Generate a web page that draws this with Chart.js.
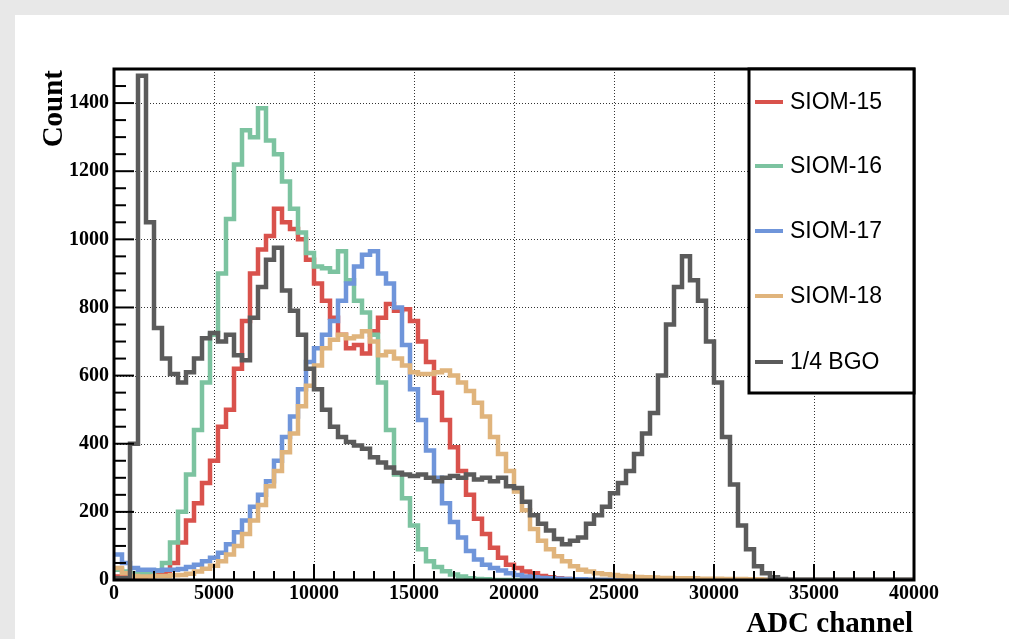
<!DOCTYPE html>
<html><head><meta charset="utf-8">
<script src="https://cdn.jsdelivr.net/npm/chart.js@4.4.0/dist/chart.umd.min.js"></script>
<style>html,body{margin:0;padding:0;background:#fff;overflow:hidden;} canvas{display:block;}</style>
</head><body>
<canvas id="c" width="1009" height="639"></canvas>
<script>
// ---- data (counts per 400-channel bin, starting at channel 0) ----
const binWidth = 400;
const xMin = 0, xMax = 40000, yMax = 1500;
const xTickStep = 5000, yTickStep = 200;
const seriesLabels = ["SIOM-15", "SIOM-16", "SIOM-17", "SIOM-18", "1/4 BGO"];
const seriesColors = ["#d9524c", "#7cc3a0", "#6f95da", "#e0b47c", "#5b5b5b"];

const siom15 = [10,10,10,10,12,15,22,50,110,175,225,285,350,450,500,620,760,900,970,1010,
  1090,1050,1030,1000,940,870,820,770,720,680,690,665,730,770,810,790,795,760,700,640,
  550,470,390,320,250,180,135,95,65,45,35,25,20,12,8,5,3,2,0,0,
  0,0,0,0,0,0,0,0,0,0,0,0,0,0,0,0,0,0,0,0,
  0,0,0,0,0,0,0,0,0,0,0,0,0,0,0,0,0,0,0,0];
const siom16 = [30,25,20,20,22,28,50,110,200,310,440,580,720,900,1060,1220,1320,1300,1385,1290,
  1250,1170,1090,1020,960,920,915,905,965,880,820,785,720,580,440,310,240,160,90,55,
  38,26,16,10,5,3,2,0,0,0,0,0,0,0,0,0,0,0,0,0,
  0,0,0,0,0,0,0,0,0,0,0,0,0,0,0,0,0,0,0,0,
  0,0,0,0,0,0,0,0,0,0,0,0,0,0,0,0,0,0,0,0];
const siom17 = [75,50,35,30,30,28,30,30,32,38,45,55,65,80,105,140,175,215,250,290,
  350,420,480,560,640,680,720,760,820,870,920,955,965,900,870,800,690,560,470,380,
  300,225,170,125,85,60,45,35,28,20,15,10,8,6,5,4,3,2,2,1,
  0,0,0,0,0,0,0,0,0,0,0,0,0,0,0,0,0,0,0,0,
  0,0,0,0,0,0,0,0,0,0,0,0,0,0,0,0,0,0,0,0];
const siom18 = [35,20,12,10,10,12,12,14,15,18,25,33,42,55,75,100,135,175,220,275,
  320,375,430,510,570,630,680,705,720,710,715,730,700,660,670,650,630,610,605,605,
  610,615,600,580,555,520,480,420,370,320,260,205,150,115,90,70,55,40,30,25,
  20,17,15,12,10,9,8,7,6,6,5,5,5,4,4,4,3,3,3,2,
  2,1,0,0,0,0,0,0,0,0,0,0,0,0,0,0,0,0,0,0];
const bgo = [5,5,400,1480,1050,740,650,605,580,610,650,710,725,700,720,660,645,770,860,940,
  975,850,790,720,620,560,500,450,420,405,395,385,360,345,330,315,310,305,310,300,
  290,300,305,300,310,295,300,290,300,275,270,230,190,165,145,120,105,115,125,165,
  190,215,255,285,320,370,430,490,600,750,860,950,880,820,700,580,420,280,160,90,
  40,20,8,3,1,1,1,1,1,1,1,1,1,1,1,1,1,1,1,1];
const seriesValues = [siom15, siom16, siom17, siom18, bgo];

function toPoints(vals) {
  const pts = vals.map((v, i) => ({ x: i * binWidth, y: v }));
  pts.push({ x: vals.length * binWidth, y: vals[vals.length - 1] });
  return pts;
}

const datasets = seriesValues.map((vals, k) => ({
  label: seriesLabels[k],
  data: toPoints(vals),
  borderColor: seriesColors[k],
  backgroundColor: seriesColors[k],
  borderWidth: 4.5,
  pointRadius: 0,
  stepped: 'before',
  fill: false,
  order: seriesValues.length - k   // later series drawn on top
}));

const serif = "'Liberation Serif', 'Times New Roman', serif";
const sans = "'Liberation Sans', Arial, Helvetica, sans-serif";

const rootStyle = {
  id: 'rootStyle',
  beforeDraw(chart) {
    const c = chart.ctx;
    c.save();
    c.fillStyle = '#e8e8e8';
    c.fillRect(0, 0, chart.width, chart.height);
    c.fillStyle = '#ffffff';
    c.fillRect(15, 15, chart.width - 15, chart.height - 15);
    c.restore();
  },
  beforeDatasetsDraw(chart) {
    const c = chart.ctx, a = chart.chartArea;
    const xs = chart.scales.x, ys = chart.scales.y;
    c.save();
    c.strokeStyle = '#333';
    c.lineWidth = 1;
    c.setLineDash([1, 2]);
    for (let v = xMin + xTickStep; v < xMax; v += xTickStep) {
      const px = Math.round(xs.getPixelForValue(v)) + 0.5;
      c.beginPath(); c.moveTo(px, a.top); c.lineTo(px, a.bottom); c.stroke();
    }
    for (let v = yTickStep; v < yMax; v += yTickStep) {
      const py = Math.round(ys.getPixelForValue(v)) + 0.5;
      c.beginPath(); c.moveTo(a.left, py); c.lineTo(a.right, py); c.stroke();
    }
    c.restore();
  },
  afterDatasetsDraw(chart) {
    const c = chart.ctx, a = chart.chartArea;
    const xs = chart.scales.x, ys = chart.scales.y;
    c.save();
    // ticks
    c.strokeStyle = '#000';
    c.lineWidth = 2;
    c.setLineDash([]);
    for (let v = xMin; v <= xMax; v += 1000) {
      const px = xs.getPixelForValue(v);
      const len = (v % xTickStep === 0) ? 16 : 9;
      c.beginPath(); c.moveTo(px, a.bottom); c.lineTo(px, a.bottom - len); c.stroke();
    }
    for (let v = 0; v <= yMax; v += 50) {
      const py = ys.getPixelForValue(v);
      const len = (v % yTickStep === 0) ? 20 : 12;
      c.beginPath(); c.moveTo(a.left, py); c.lineTo(a.left + len, py); c.stroke();
    }
    // frame
    c.lineWidth = 3;
    c.strokeRect(a.left, a.top, a.right - a.left, a.bottom - a.top);

    // legend box
    const lx = 749, ly = a.top, lw = a.right - 749, lh = 393 - a.top;
    c.fillStyle = '#fff';
    c.fillRect(lx, ly, lw, lh);
    c.strokeStyle = '#000';
    c.lineWidth = 3;
    c.strokeRect(lx, ly, lw, lh);
    const rows = [102, 166, 231, 296, 362];
    c.font = "23px " + sans;
    c.textBaseline = 'middle';
    c.textAlign = 'left';
    chart.data.datasets.forEach((ds, i) => {
      const y = rows[i];
      c.strokeStyle = ds.borderColor;
      c.lineWidth = 4;
      c.beginPath(); c.moveTo(755, y); c.lineTo(783, y); c.stroke();
      c.fillStyle = '#000';
      c.fillText(ds.label, 790, y + 1);
    });

    // axis titles
    c.fillStyle = '#000';
    c.font = "bold 29px " + serif;
    c.textAlign = 'right';
    c.textBaseline = 'alphabetic';
    c.fillText('ADC channel', 913, 632);
    c.translate(62, a.top + 1);
    c.rotate(-Math.PI / 2);
    c.textAlign = 'right';
    c.fillText('Count', 0, 0);
    c.restore();
  }
};

new Chart(document.getElementById('c'), {
  type: 'line',
  data: { datasets },
  options: {
    responsive: false,
    animation: false,
    events: [],
    layout: { padding: { left: 0, top: 69, right: 95, bottom: 0 } },
    plugins: { legend: { display: false }, tooltip: { enabled: false } },
    elements: { line: { borderJoinStyle: 'miter', borderCapStyle: 'butt', tension: 0 } },
    scales: {
      x: {
        type: 'linear', min: xMin, max: xMax,
        afterFit(s) { s.height = 59; },
        grid: { display: false, drawTicks: false },
        border: { display: false },
        ticks: { stepSize: xTickStep, padding: 2, color: '#000', maxRotation: 0,
                 callback: v => String(v),
                 font: { family: serif, size: 20, weight: 'bold' } }
      },
      y: {
        type: 'linear', min: 0, max: yMax,
        afterFit(s) { s.width = 114; },
        afterBuildTicks(s) { s.ticks = s.ticks.filter(t => t.value % yTickStep === 0); },
        grid: { display: false, drawTicks: false },
        border: { display: false },
        ticks: { stepSize: yTickStep, padding: 5, color: '#000',
                 callback: v => String(v),
                 font: { family: serif, size: 20, weight: 'bold' } }
      }
    }
  },
  plugins: [rootStyle]
});
</script>
</body></html>
